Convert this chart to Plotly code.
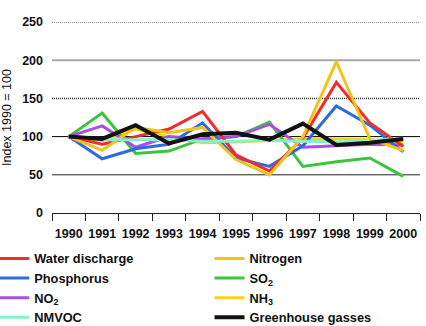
import plotly.graph_objects as go

years = ["1990", "1991", "1992", "1993", "1994", "1995", "1996", "1997", "1998", "1999", "2000"]

water_discharge = [100, 90, 100, 110, 133, 76, 55, 98, 171, 118, 87]
nitrogen = [100, 82, 112, 105, 112, 70, 50, 100, 198, 97, 82]
phosphorus = [100, 71, 84, 90, 118, 72, 61, 88, 140, 115, 80]
so2 = [100, 131, 78, 81, 97, 100, 119, 61, 67, 72, 48]
no2 = [100, 114, 86, 100, 97, 100, 116, 86, 88, 90, 89]
nh3 = [100, 95, 110, 100, 92, 93, 95, 97, 97, 96, 92]
nmvoc = [100, 96, 96, 96, 94, 94, 95, 94, 93, 95, 98]
greenhouse = [100, 97, 115, 91, 103, 105, 96, 117, 89, 92, 97]

y_ticks = [0, 50, 100, 150, 200, 250]

# (name, values, colour, width, legend, rank) in drawing order
series = [
    ("NH<sub>3</sub>", nh3, "#F6D21C", 3, "legend2", 3),
    ("SO<sub>2</sub>", so2, "#3DC43D", 3, "legend2", 2),
    ("NO<sub>2</sub>", no2, "#AA4FE4", 3, "legend", 3),
    ("Phosphorus", phosphorus, "#2F6BE0", 3, "legend", 2),
    ("Water discharge", water_discharge, "#F22B2B", 3, "legend", 1),
    ("Nitrogen", nitrogen, "#F5C21A", 3, "legend2", 1),
    ("NMVOC", nmvoc, "#86F0CC", 3, "legend", 4),
    ("Greenhouse gasses", greenhouse, "#111111", 4, "legend2", 4),
]

fig = go.Figure()
for name, vals, color, width, leg, rank in series:
    fig.add_trace(go.Scatter(
        x=years, y=vals, name=name, mode="lines",
        line=dict(color=color, width=width),
        legend=leg, legendrank=rank,
    ))

# horizontal reference lines, each with its own style
grid_styles = {
    50: dict(color="#222222", width=1, dash="solid"),
    100: dict(color="#000000", width=1, dash="solid"),
    150: dict(color="#333333", width=1.5, dash="1px,1px"),
    200: dict(color="#A8A8A8", width=2, dash="solid"),
    250: dict(color="#333333", width=1, dash="1px,1px"),
}
for v, st in grid_styles.items():
    fig.add_shape(type="line", xref="paper", x0=0, x1=1, yref="y", y0=v, y1=v,
                  line=st, layer="below")

legend_font = dict(size=12.8, family="Liberation Sans, Arial, sans-serif", weight="bold")
legend_common = dict(
    orientation="v", y=-0.16, yanchor="top", xanchor="left",
    itemwidth=30, font=legend_font, tracegroupgap=0,
    bgcolor="rgba(0,0,0,0)",
)

fig.update_layout(
    width=426, height=326,
    margin=dict(l=52, r=6, t=22, b=113, autoexpand=False),
    paper_bgcolor="white", plot_bgcolor="white",
    font=dict(family="Liberation Sans, Arial, sans-serif", color="#111111", size=12),
    showlegend=True,
    legend=dict(x=-0.157, **legend_common),
    legend2=dict(x=0.428, **legend_common),
)
fig.update_xaxes(
    type="category", tickson="boundaries", ticks="outside", ticklen=7,
    tickcolor="#222222", showline=True, linecolor="#222222", linewidth=1,
    showgrid=False, range=[-0.5, 10.5], tickangle=0, automargin=False,
    ticklabelstandoff=9,
    tickfont=dict(size=12.5, weight="bold"),
)
fig.update_yaxes(
    range=[0, 250], tickvals=y_ticks, showgrid=False, zeroline=False,
    showline=False, ticks="", ticklabelstandoff=8, automargin=False,
    tickfont=dict(size=12.5, weight="bold"),
    title=dict(text="Index 1990 = 100", font=dict(size=12.5), standoff=9),
)

fig.write_html("out.html")
